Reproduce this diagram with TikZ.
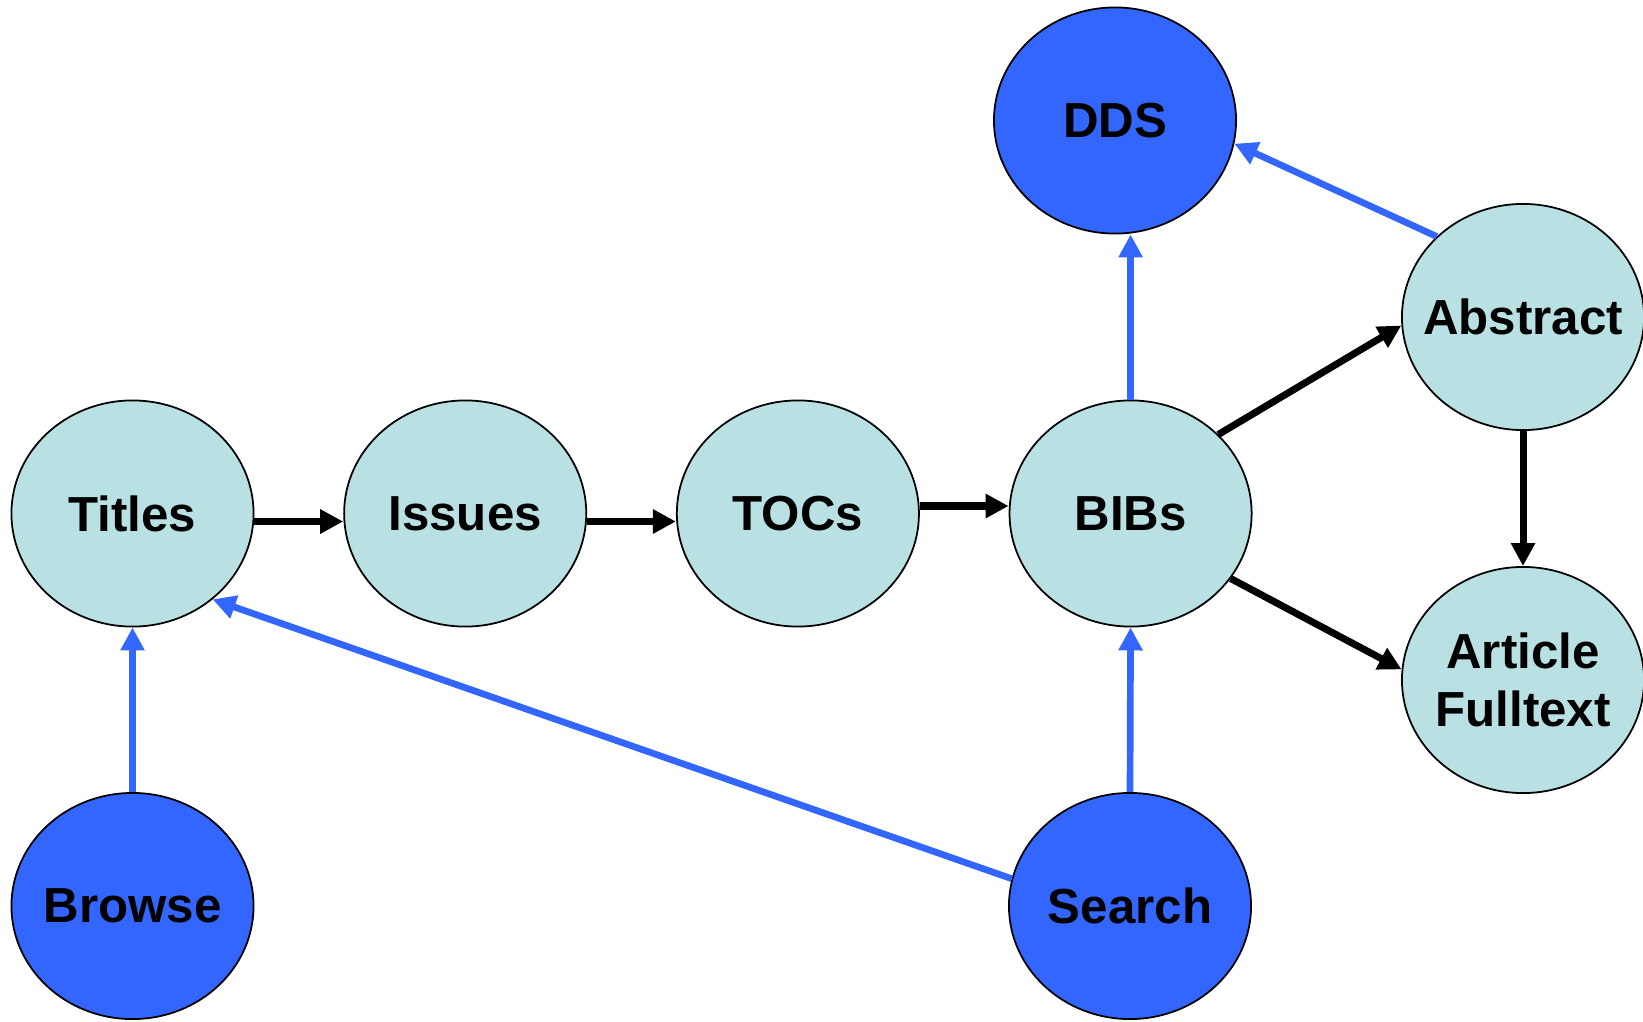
\documentclass[tikz,border=0pt]{standalone}
\usepackage{fontspec}
\setmainfont{Liberation Sans}
\usetikzlibrary{shapes.geometric,arrows.meta,positioning}
\definecolor{paleteal}{RGB}{185,224,227}
\definecolor{linkblue}{RGB}{51,102,255}

\begin{document}
\begin{tikzpicture}[x=0.01cm,y=-0.01cm,node distance=3.325cm,
  page/.style={ellipse,draw,line width=0.5pt,fill=paleteal,minimum width=2.42cm,minimum height=2.26cm,inner sep=-0.3cm,align=center,font=\fontsize{14}{16.6}\selectfont\bfseries},
  entry/.style={page,fill=linkblue},
  flow/.style={-{Triangle[length=0.23cm,width=0.23cm]},line width=2pt},
  link/.style={flow,draw=linkblue,fill=linkblue,line width=1.9pt}]
\useasboundingbox (0,0) rectangle (1643,1021);

\node [page] (titles) at (132.5,513.5) {Titles};
\node [page] (issues) [right of=titles] {Issues};
\node [page] (tocs) [right of=issues] {TOCs};
\node [page] (bibs) [right of=tocs] {BIBs};
\node [entry] (dds) at (1115,120.5) {DDS};
\node [page] (abstract) at (1523,317) {Abstract};
\node [page] (article) at (1523,680) {Article\\Fulltext};
\node [entry] (browse) at (132.5,906) {Browse};
\node [entry] (search) at (1130,906) {Search};

\draw [flow] ([yshift=-0.08cm]titles.east) -- ([yshift=-0.08cm]issues.west);
\draw [flow] ([yshift=-0.08cm]issues.east) -- ([yshift=-0.08cm]tocs.west);
\draw [flow] ([yshift=0.075cm]tocs.east) -- ([yshift=0.075cm]bibs.west);
\draw [flow] (bibs.42) -- (abstract.184);
\draw [flow] (bibs.-33) -- (article.175);
\draw [flow] (abstract.south) -- (article.north);

\draw [link] (bibs.north) -- (bibs.north |- dds.south);
\draw [link] (abstract.137) -- (dds.-11);
\draw [link] (browse.north) -- (titles.south);
\draw [link] (search.north) -- (bibs.south);
\draw [link] (search.167) -- (titles.-47);
\end{tikzpicture}
\end{document}
